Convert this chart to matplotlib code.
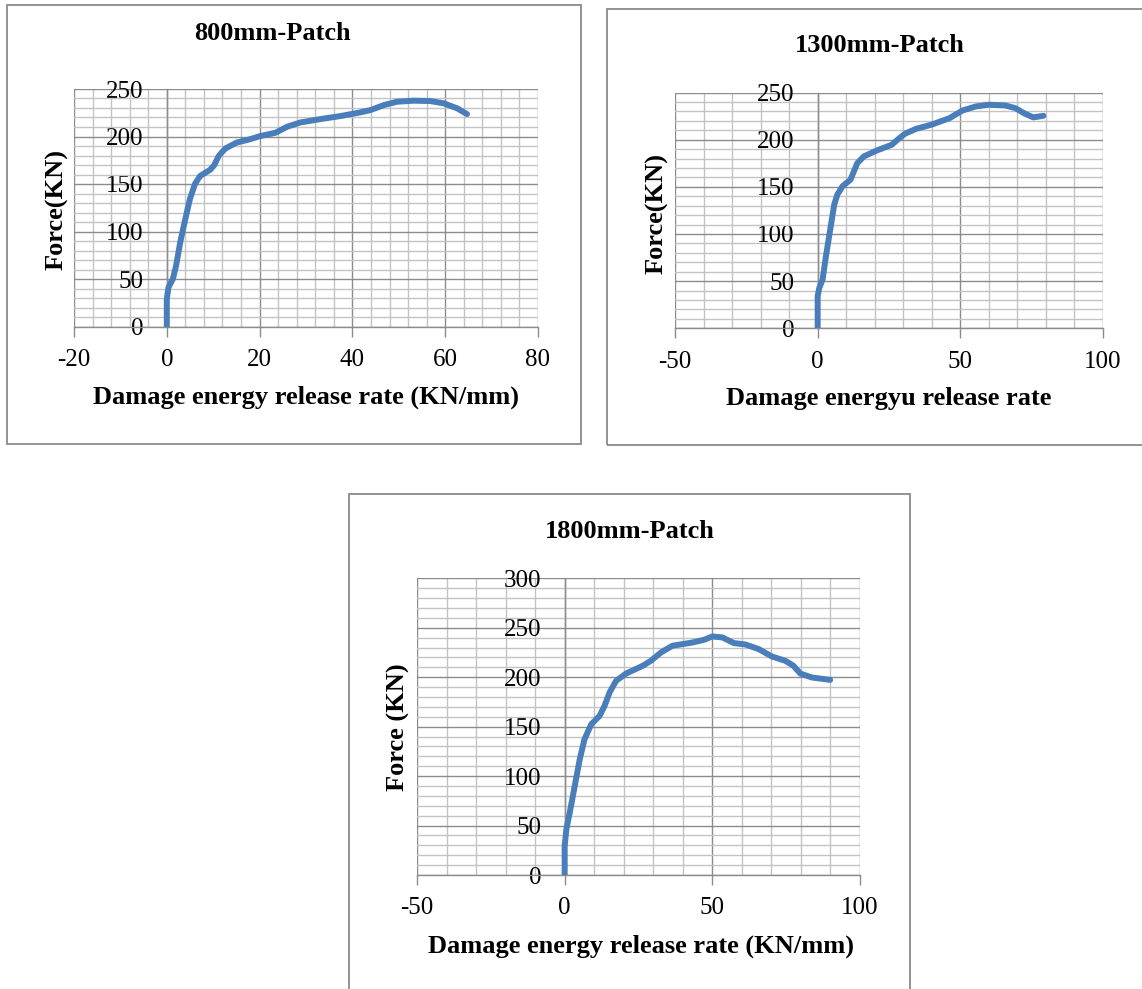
import matplotlib
matplotlib.use("Agg")
import matplotlib.pyplot as plt
from matplotlib.ticker import MultipleLocator
from matplotlib.patches import Rectangle

plt.rcParams['font.family'] = ['Liberation Serif', 'DejaVu Serif']

# ---- data: damage energy release rate vs force ----
x_800 = [0, 0, 0.36, 1.3, 2.0, 2.9, 4.0, 5.0, 6.1, 7.2, 9.35, 10.2, 11.2, 12.6, 15.1,
         18, 20.1, 23.4, 25.9, 28.8, 33.1, 37.4, 41.7, 43.9, 46.8, 49.6, 53.2, 56.8,
         59.7, 62.6, 64.7]
f_800 = [0, 28.9, 41.2, 50, 64, 88.7, 113.4, 134.5, 150.4, 158.5, 165, 169.7, 179.6,
         187.3, 193.7, 197.2, 200.4, 203.9, 210.2, 214.8, 218.3, 221.5, 225.4, 227.8,
         233.1, 236.6, 237.7, 237.3, 234.9, 229.6, 223.6]

x_1300 = [0, 0, 0.58, 1.73, 2.9, 4.4, 5.8, 6.9, 8.7, 11.5, 12.7, 13.9, 16.2, 20.8, 26,
          27.7, 30.6, 34.6, 39.8, 46.2, 50.8, 55.4, 60, 65.8, 69.3, 72.7, 75.6, 79.1]
f_1300 = [0, 34.2, 43, 51.8, 76.5, 104.7, 131.2, 141.7, 150.6, 157.6, 166.4, 175.2,
          182.3, 188.6, 194.6, 199.2, 206.3, 211.6, 215.8, 222.8, 231, 235.2, 237,
          236.2, 233.4, 227.4, 223.6, 225.3]

x_1800 = [0, 0, 0.56, 1.7, 3.4, 5.1, 6.7, 9, 11.8, 13.5, 15.2, 17.4, 20.8, 26.4, 29.2,
          32.6, 36.5, 43.3, 47.2, 50, 53.4, 57.3, 61.2, 65.7, 70.2, 74.7, 77.5, 79.8,
          83.7, 89.9]
f_1800 = [0, 29, 46, 62.8, 89.9, 116.9, 137.2, 152.4, 160.8, 171, 184.5, 196.3, 203.7,
          211.5, 216.6, 225, 231.8, 235.1, 237.8, 241.2, 240.2, 234.5, 233.1, 228.4,
          220.9, 216.6, 211.5, 203.7, 199.7, 197.3]

titles = ["800mm-Patch", "1300mm-Patch", "1800mm-Patch"]
xlabels = ["Damage energy release rate (KN/mm)", "Damage energyu release rate",
           "Damage energy release rate (KN/mm)"]
ylabels = ["Force(KN)", "Force(KN)", "Force (KN)"]

W, H = 1142, 989
fig = plt.figure(figsize=(W / 100, H / 100), dpi=100)


def fx(px):
    return px / W


def fy(py):
    return 1 - py / H


LINE = "#4A7EBB"
MAJOR = "#8C8C8C"
MINOR = "#C3C3C3"
FRAME = "#8A8A8A"

# chart frames (left, top, right, bottom in pixels)
frames = [(7, 5, 581, 444), (607, 9, 1150, 445), (349, 494, 910, 1000)]
for l, t, r, b in frames:
    fig.patches.append(Rectangle((fx(l), fy(b)), fx(r - l), (b - t) / H,
                                 transform=fig.transFigure, fill=False,
                                 edgecolor=FRAME, linewidth=1.3, zorder=0))

# plot areas (left, top, right, bottom in pixels)
areas = [(74, 89, 538, 326.5), (675, 92.5, 1103, 328.3), (417, 578.3, 860, 875)]
xlims = [(-20, 80), (-50, 100), (-50, 100)]
ylims = [(0, 250), (0, 250), (0, 300)]
xmaj = [20, 50, 50]
xmin = [4, 10, 10]
series = [(x_800, f_800), (x_1300, f_1300), (x_1800, f_1800)]

title_pos = [(272, 33), (880, 46), (630, 531)]
xlabel_pos = [(306, 397), (889, 399), (641, 946)]
ylabel_pos = [(57, 210), (657, 213), (398, 727)]

for i in range(3):
    l, t, r, b = areas[i]
    ax = fig.add_axes([fx(l), fy(b), fx(r - l), (b - t) / H])
    xs, ys = series[i]
    ax.plot(xs, ys, color=LINE, linewidth=4.3, solid_capstyle='round',
            solid_joinstyle='round', zorder=5)
    ax.set_xlim(*xlims[i])
    ax.set_ylim(*ylims[i])
    ax.xaxis.set_major_locator(MultipleLocator(xmaj[i]))
    ax.xaxis.set_minor_locator(MultipleLocator(xmin[i]))
    ax.yaxis.set_major_locator(MultipleLocator(50))
    ax.yaxis.set_minor_locator(MultipleLocator(10))
    ax.set_axisbelow(True)
    ax.grid(which='minor', color=MINOR, linewidth=1.0)
    ax.grid(which='major', color=MAJOR, linewidth=1.0)

    for s in ('top', 'right'):
        ax.spines[s].set_visible(False)
    ax.spines['left'].set_position(('data', 0))
    ax.spines['left'].set_color(MAJOR)
    ax.spines['bottom'].set_color(MAJOR)
    ax.spines['bottom'].set_linewidth(1.0)
    ax.spines['left'].set_linewidth(1.0)

    ax.tick_params(axis='x', which='major', length=7, width=1, color=MAJOR,
                   labelsize=18, pad=9)
    ax.tick_params(axis='y', which='major', length=0, labelsize=18, pad=17)
    ax.tick_params(which='minor', length=0)
    ax.set_xticklabels([f"{int(v)}" for v in ax.get_xticks()])

    tx, ty = title_pos[i]
    fig.text(fx(tx), fy(ty), titles[i], ha='center', va='center',
             fontsize=19, fontweight='bold')
    lx, ly = xlabel_pos[i]
    fig.text(fx(lx), fy(ly), xlabels[i], ha='center', va='center',
             fontsize=19, fontweight='bold')
    yx, yy = ylabel_pos[i]
    fig.text(fx(yx), fy(yy), ylabels[i], ha='center', va='center',
             fontsize=19, fontweight='bold', rotation=90)

fig.savefig("out.png", dpi=100)
